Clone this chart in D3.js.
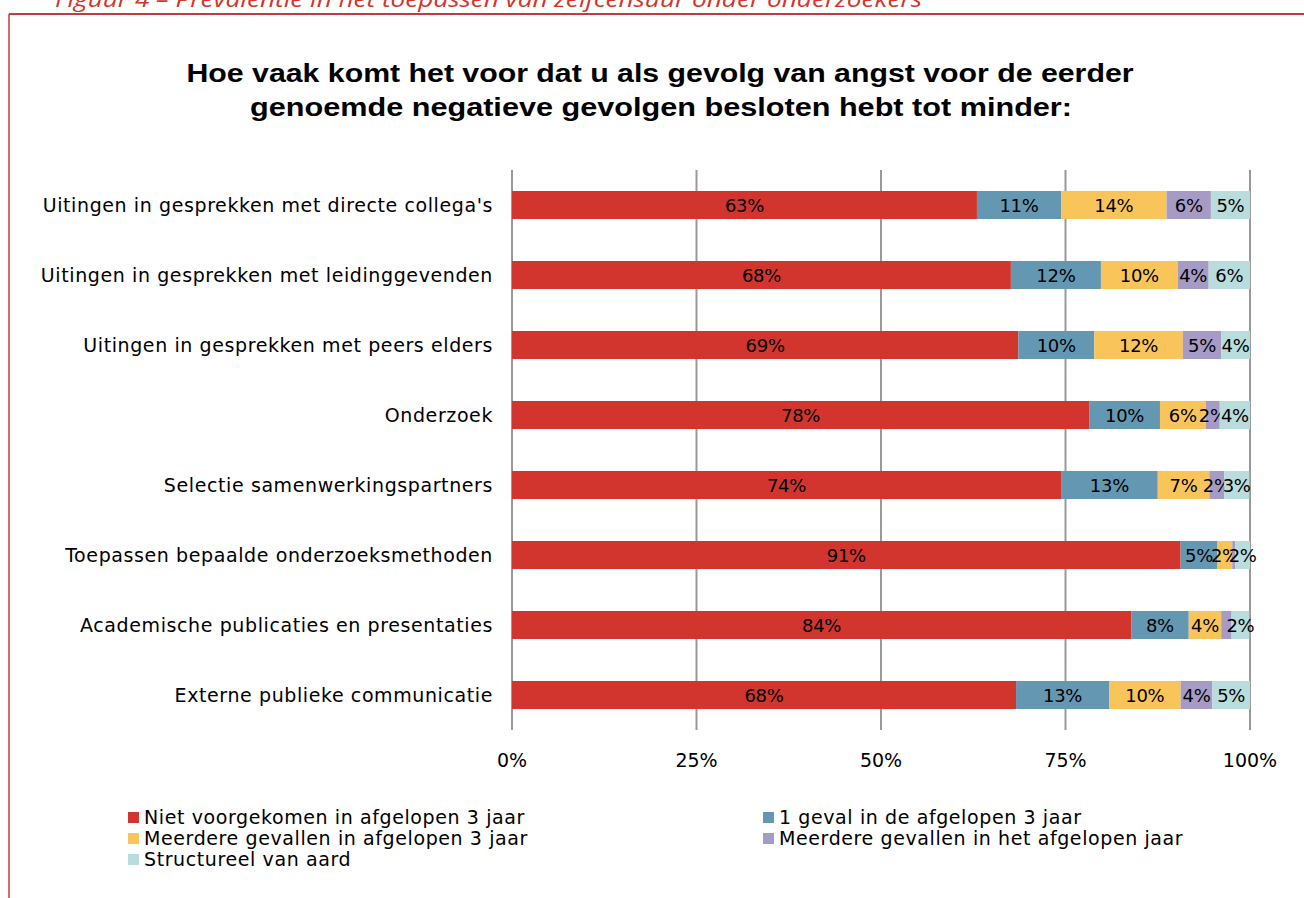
<!DOCTYPE html>
<html>
<head>
<meta charset="utf-8">
<script src="https://cdn.jsdelivr.net/npm/d3@7"></script>
<style>
  body { margin: 0; background: #fff; }
  svg { display: block; }
</style>
</head>
<body>
<svg id="chart" width="1304" height="898"></svg>
<script>
// categories, top to bottom
const categories = [
  "Uitingen in gesprekken met directe collega's",
  "Uitingen in gesprekken met leidinggevenden",
  "Uitingen in gesprekken met peers elders",
  "Onderzoek",
  "Selectie samenwerkingspartners",
  "Toepassen bepaalde onderzoeksmethoden",
  "Academische publicaties en presentaties",
  "Externe publieke communicatie"
]

const seriesNames = [
  "Niet voorgekomen in afgelopen 3 jaar",
  "1 geval in de afgelopen 3 jaar",
  "Meerdere gevallen in afgelopen 3 jaar",
  "Meerdere gevallen in het afgelopen jaar",
  "Structureel van aard"
]

// values in percent, one array per series
const nietVoorgekomen = [63.0, 67.6, 68.6, 78.2, 74.4, 90.6, 83.9, 68.3]
const eenGeval        = [11.4, 12.2, 10.3,  9.6, 13.1,  5.0,  7.8, 12.6]
const meerdere3jaar   = [14.3, 10.4, 12.0,  6.2,  7.0,  2.0,  4.4,  9.7]
const meerdereJaar    = [ 6.0,  4.2,  5.2,  1.9,  2.0,  0.4,  1.4,  4.3]
const structureel     = [ 5.3,  5.6,  3.9,  4.1,  3.4,  2.0,  2.4,  5.1]

const xTicks = [0, 25, 50, 75, 100]
const colors = ["#D1352E", "#6497B1", "#F9C55B", "#A59BC5", "#B9DCDD"]

const svg = d3.select('#chart')
const font = "'DejaVu Sans', sans-serif"

// page frame + cut-off caption
svg.append('text')
    .attr('x', 55).attr('y', 7)
    .attr('textLength', 867).attr('lengthAdjust', 'spacingAndGlyphs')
    .style('font-family', "'Open Sans', sans-serif")
    .style('font-style', 'italic')
    .style('font-size', '21px')
    .style('fill', '#D1352E')
    .text('Figuur 4 \u2013 Prevalentie in het toepassen van zelfcensuur onder onderzoekers')
svg.append('line').attr('x1', 9).attr('x2', 1304).attr('y1', 14).attr('y2', 14)
    .style('stroke', '#C9393A').style('stroke-width', 2)
svg.append('line').attr('x1', 9).attr('x2', 9).attr('y1', 14).attr('y2', 898)
    .style('stroke', '#C9393A').style('stroke-width', 1.5)

// title
const title = svg.append('text')
    .attr('text-anchor', 'middle')
    .style('font-family', "'Liberation Sans', Arial, sans-serif")
    .style('font-weight', 'bold')
    .style('font-size', '26px')
    .style('fill', '#000')
title.append('tspan').attr('x', 660).attr('y', 82)
    .attr('textLength', 947).attr('lengthAdjust', 'spacingAndGlyphs')
    .text('Hoe vaak komt het voor dat u als gevolg van angst voor de eerder')
title.append('tspan').attr('x', 661).attr('y', 116)
    .attr('textLength', 822).attr('lengthAdjust', 'spacingAndGlyphs')
    .text('genoemde negatieve gevolgen besloten hebt tot minder:')

const x = d3.scaleLinear().domain([0, 100]).range([512, 1250])
const y = d3.scaleBand().domain(categories).range([170, 730]).paddingInner(0.6).paddingOuter(0.3)

// gridlines
svg.append('g')
    .selectAll('line')
    .data(xTicks)
    .enter()
    .append('line')
        .attr('x1', d => x(d)).attr('x2', d => x(d))
        .attr('y1', 170).attr('y2', 730)
        .style('stroke', '#999')
        .style('stroke-width', 2)

// stacked bars
const rows = categories.map((c, i) => ({
    cat: c,
    v: [nietVoorgekomen[i], eenGeval[i], meerdere3jaar[i], meerdereJaar[i], structureel[i]]
}))
const stacked = d3.stack().keys([0, 1, 2, 3, 4]).value((d, k) => d.v[k])(rows)

const layer = svg.append('g')
    .selectAll('g')
    .data(stacked)
    .enter()
    .append('g')
        .style('fill', (d, i) => colors[i])

layer.selectAll('rect')
    .data(d => d)
    .enter()
    .append('rect')
        .attr('x', d => x(d[0]))
        .attr('width', d => x(d[1]) - x(d[0]))
        .attr('y', d => y(d.data.cat))
        .attr('height', y.bandwidth())

// data labels
layer.selectAll('text')
    .data(d => d.filter(s => s[1] - s[0] >= 1.5))
    .enter()
    .append('text')
        .attr('x', d => (x(d[0]) + x(d[1])) / 2)
        .attr('y', d => y(d.data.cat) + y.bandwidth() / 2 + 7)
        .attr('text-anchor', 'middle')
        .style('fill', '#000')
        .style('font-family', font)
        .style('font-size', '18px')
        .style('letter-spacing', '-0.3px')
        .text(d => Math.round(d[1] - d[0]) + '%')

// category labels
svg.append('g')
    .selectAll('text')
    .data(categories)
    .enter()
    .append('text')
        .attr('x', 493)
        .attr('y', d => y(d) + y.bandwidth() / 2 + 7)
        .attr('text-anchor', 'end')
        .style('font-family', font)
        .style('font-size', '19px')
        .style('letter-spacing', '0.6px')
        .style('fill', '#000')
        .text(d => d)

// x axis labels
svg.append('g')
    .selectAll('text')
    .data(xTicks)
    .enter()
    .append('text')
        .attr('x', d => x(d))
        .attr('y', 767)
        .attr('text-anchor', 'middle')
        .style('font-family', font)
        .style('font-size', '19px')
        .style('fill', '#000')
        .text(d => d + '%')

// legend
const legendPos = [[128, 822], [763, 822], [128, 843], [763, 843], [128, 864]]
const legend = svg.append('g')
    .selectAll('g')
    .data(seriesNames)
    .enter()
    .append('g')
        .attr('transform', (d, i) => `translate(${legendPos[i][0]},${legendPos[i][1]})`)
legend.append('rect')
    .attr('x', 0).attr('y', -10).attr('width', 11).attr('height', 11)
    .style('fill', (d, i) => colors[i])
legend.append('text')
    .attr('x', 16).attr('y', 2)
    .style('font-family', font)
    .style('font-size', '19px')
    .style('letter-spacing', '0.6px')
    .style('fill', '#000')
    .text(d => d)
</script>
</body>
</html>
